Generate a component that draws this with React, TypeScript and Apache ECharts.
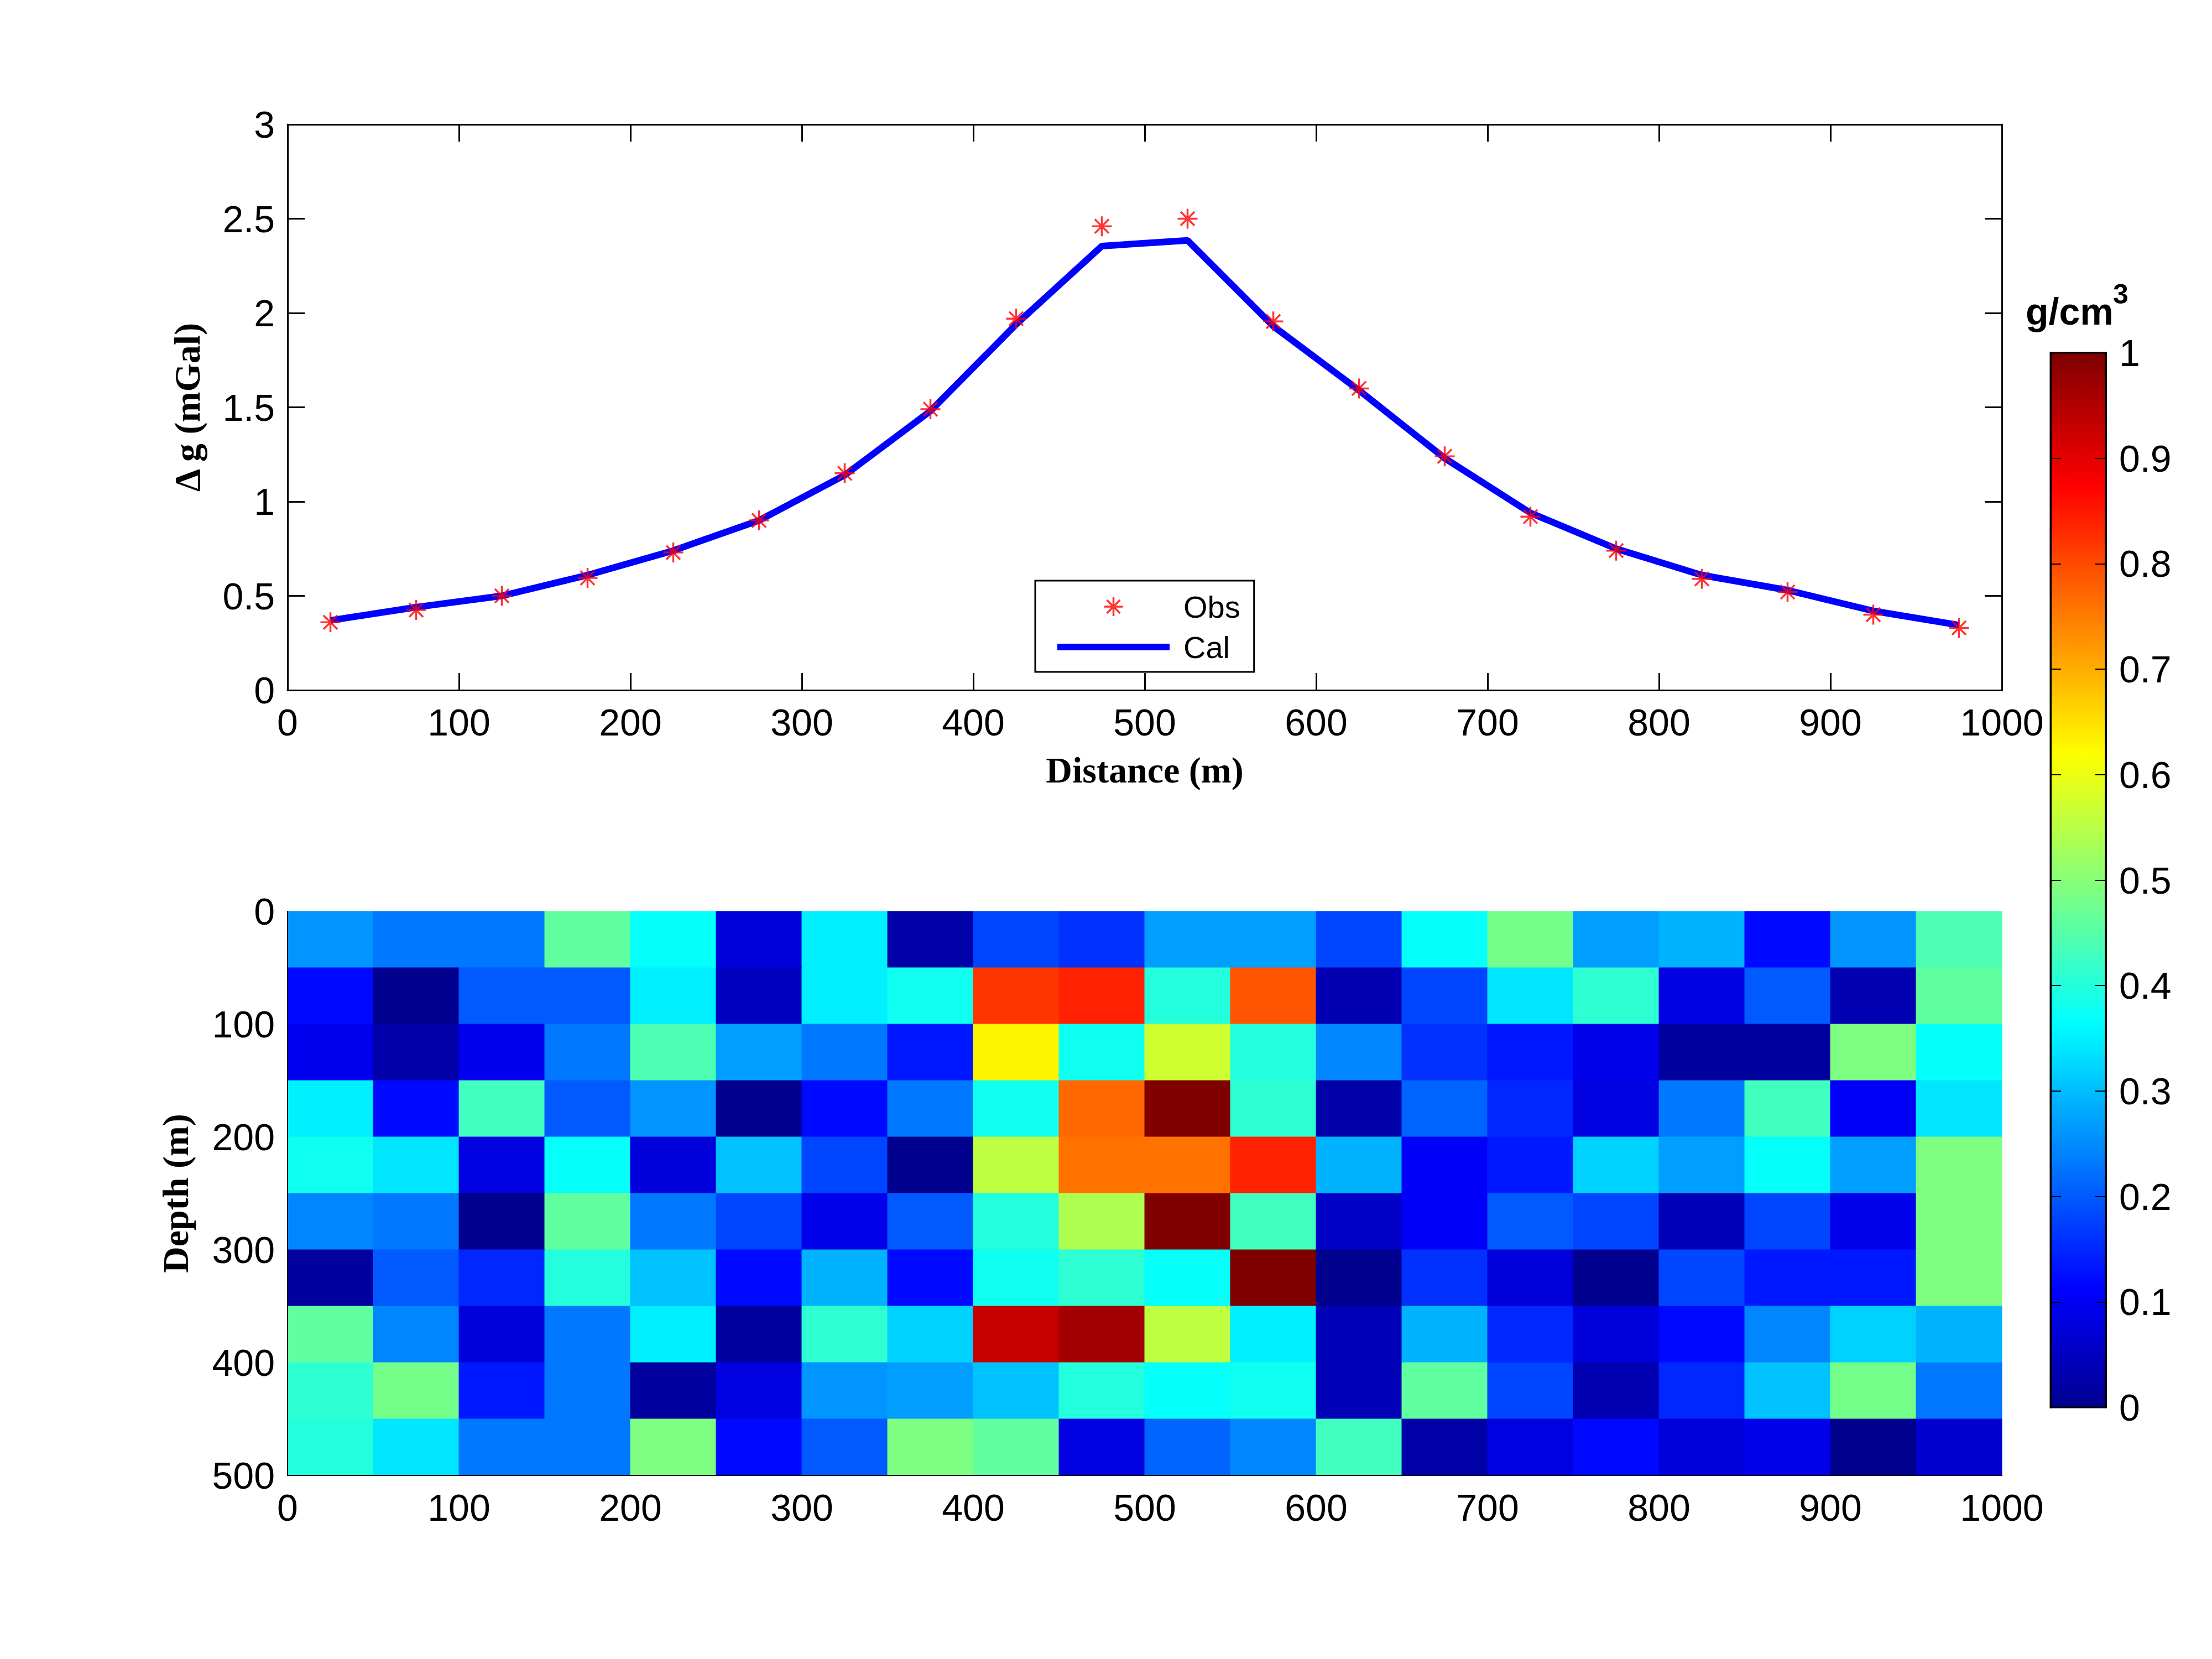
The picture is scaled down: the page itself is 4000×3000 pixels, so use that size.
import React, { useEffect, useRef } from 'react';
import * as echarts from 'echarts';

// ---------- data ----------
const distance = [25, 75, 125, 175, 225, 275, 325, 375, 425, 475, 525, 575, 625, 675, 725, 775, 825, 875, 925, 975];
const obsGravity = [0.36, 0.425, 0.5, 0.595, 0.73, 0.9, 1.15, 1.49, 1.97, 2.46, 2.5, 1.955, 1.6, 1.24, 0.92, 0.74, 0.59, 0.52, 0.4, 0.33];
const calGravity = [0.37, 0.44, 0.5, 0.61, 0.74, 0.9, 1.14, 1.48, 1.94, 2.355, 2.385, 1.93, 1.59, 1.23, 0.94, 0.75, 0.61, 0.53, 0.42, 0.345];
const depthCenters = [25, 75, 125, 175, 225, 275, 325, 375, 425, 475];
const density = [
  [0.26, 0.23, 0.23, 0.46, 0.37, 0.075, 0.35, 0.025, 0.18, 0.16, 0.27, 0.27, 0.18, 0.37, 0.48, 0.27, 0.29, 0.12, 0.26, 0.44],
  [0.12, 0.0, 0.2, 0.2, 0.35, 0.05, 0.35, 0.38, 0.82, 0.84, 0.4, 0.79, 0.035, 0.18, 0.34, 0.41, 0.08, 0.2, 0.035, 0.46],
  [0.095, 0.025, 0.095, 0.23, 0.44, 0.27, 0.23, 0.135, 0.63, 0.38, 0.57, 0.4, 0.245, 0.16, 0.135, 0.09, 0.015, 0.015, 0.49, 0.37],
  [0.35, 0.12, 0.43, 0.2, 0.26, 0.0, 0.12, 0.23, 0.38, 0.77, 1.0, 0.41, 0.025, 0.21, 0.15, 0.08, 0.23, 0.43, 0.105, 0.34],
  [0.38, 0.34, 0.08, 0.37, 0.075, 0.305, 0.18, 0.0, 0.555, 0.76, 0.76, 0.84, 0.29, 0.105, 0.135, 0.32, 0.27, 0.37, 0.27, 0.49],
  [0.245, 0.23, 0.0, 0.46, 0.23, 0.18, 0.09, 0.2, 0.4, 0.54, 1.0, 0.43, 0.055, 0.105, 0.2, 0.18, 0.04, 0.18, 0.09, 0.49],
  [0.015, 0.2, 0.15, 0.4, 0.305, 0.12, 0.29, 0.12, 0.38, 0.41, 0.37, 1.0, 0.0, 0.16, 0.075, 0.0, 0.18, 0.135, 0.135, 0.49],
  [0.46, 0.245, 0.075, 0.23, 0.35, 0.015, 0.41, 0.32, 0.93, 0.965, 0.555, 0.35, 0.04, 0.29, 0.15, 0.075, 0.12, 0.245, 0.32, 0.29],
  [0.41, 0.48, 0.135, 0.23, 0.015, 0.08, 0.26, 0.27, 0.305, 0.4, 0.37, 0.38, 0.04, 0.46, 0.18, 0.035, 0.15, 0.305, 0.48, 0.23],
  [0.4, 0.34, 0.23, 0.23, 0.49, 0.12, 0.2, 0.49, 0.46, 0.08, 0.21, 0.245, 0.43, 0.025, 0.08, 0.12, 0.075, 0.09, 0.0, 0.065],
];
const cellSize = 50;

const STAR = 'path://M0,-10L0,10M-10,0L10,0M-7,-7L7,7M-7,7L7,-7';
const LINE_ICON = 'path://M0,0H203V12H0Z';

// MATLAB jet(64) colormap
function jetColors(n: number): string[] {
  const out: string[] = [];
  const c = (v: number) => Math.round(255 * Math.max(0, Math.min(1, v)));
  for (let k = 0; k < n; k++) {
    const x = (k + 1) / n;
    out.push(`rgb(${c(1.5 - Math.abs(4 * x - 3))},${c(1.5 - Math.abs(4 * x - 2))},${c(1.5 - Math.abs(4 * x - 1))})`);
  }
  return out;
}

const SANS = 'Liberation Sans';
const SERIF = 'Liberation Serif';

export default function App() {
  const ref = useRef<HTMLDivElement>(null);
  useEffect(() => {
    document.body.style.margin = '0';
    const chart = echarts.init(ref.current as HTMLDivElement, null, { renderer: 'svg' });

    const axisLine = (w: number) => ({ show: true, onZero: false, lineStyle: { color: '#000', width: w } });
    const tickIn = (len: number, w: number) => ({ show: true, inside: true, length: len, lineStyle: { color: '#000', width: w } });
    const label = (margin: number) => ({
      show: true, color: '#000', fontSize: 68, fontFamily: SANS, margin,
      formatter: (v: number) => String(Math.round(v * 1000) / 1000),
    });
    const nameStyle = { color: '#000', fontSize: 66, fontFamily: SERIF, fontWeight: 'bold' as const };
    const noSplit = { show: false };

    const cells: number[][] = [];
    density.forEach((row, i) => row.forEach((v, j) => cells.push([distance[j], depthCenters[i], v])));

    const option: any = {
      animation: false,
      backgroundColor: '#fff',
      textStyle: { fontFamily: SANS },
      grid: [
        { left: 520, top: 225, width: 3100, height: 1023 },
        { left: 520, top: 1648, width: 3100, height: 1020 },
        { left: 3708, top: 638, width: 100, height: 1907, show: true, borderColor: '#000', borderWidth: 3, backgroundColor: 'transparent', z: 10 },
      ],
      xAxis: [
        {
          gridIndex: 0, type: 'value', min: 0, max: 1000, interval: 100, position: 'bottom',
          axisLine: axisLine(3), axisTick: tickIn(31, 3), axisLabel: label(24), splitLine: noSplit,
          name: 'Distance (m)', nameLocation: 'middle', nameGap: 111, nameTextStyle: nameStyle,
        },
        {
          gridIndex: 0, type: 'value', min: 0, max: 1000, interval: 100, position: 'top',
          axisLine: axisLine(3), axisTick: tickIn(31, 3), axisLabel: { show: false }, splitLine: noSplit,
        },
        {
          gridIndex: 1, type: 'value', min: 0, max: 1000, interval: 100, position: 'bottom', z: 5,
          axisLine: axisLine(2), axisTick: { show: false }, axisLabel: label(24), splitLine: noSplit,
        },
        { gridIndex: 2, type: 'value', min: 0, max: 1, show: false, splitLine: noSplit },
      ],
      yAxis: [
        {
          gridIndex: 0, type: 'value', min: 0, max: 3, interval: 0.5, position: 'left',
          axisLine: axisLine(3), axisTick: tickIn(31, 3), axisLabel: label(23), splitLine: noSplit,
          name: 'Δ g (mGal)', nameLocation: 'middle', nameRotate: 90, nameGap: 149, nameTextStyle: nameStyle,
        },
        {
          gridIndex: 0, type: 'value', min: 0, max: 3, interval: 0.5, position: 'right',
          axisLine: axisLine(3), axisTick: tickIn(31, 3), axisLabel: { show: false }, splitLine: noSplit,
        },
        {
          gridIndex: 1, type: 'value', min: 0, max: 500, interval: 100, inverse: true, position: 'left', z: 5,
          axisLine: axisLine(2), axisTick: { show: false }, axisLabel: label(23), splitLine: noSplit,
          name: 'Depth (m)', nameLocation: 'middle', nameRotate: 90, nameGap: 170, nameTextStyle: nameStyle,
        },
        {
          gridIndex: 2, type: 'value', min: 0, max: 1, interval: 0.1, position: 'right', z: 10,
          axisLine: axisLine(3), axisTick: tickIn(19, 2), axisLabel: label(24), splitLine: noSplit,
        },
        {
          gridIndex: 2, type: 'value', min: 0, max: 1, interval: 0.1, position: 'left', z: 10,
          axisLine: axisLine(3), axisTick: tickIn(19, 2), axisLabel: { show: false }, splitLine: noSplit,
        },
      ],
      visualMap: {
        type: 'continuous', min: 0, max: 1, dimension: 2, seriesIndex: 2,
        orient: 'vertical', left: 3708, top: 638, itemWidth: 100, itemHeight: 1907,
        padding: 0, calculable: false, hoverLink: false,
        inRange: { color: jetColors(64) },
      },
      legend: {
        left: 1872, top: 1050, orient: 'vertical', align: 'left',
        padding: [17, 25, 15, 40], itemWidth: 203, itemHeight: 34, itemGap: 13,
        borderColor: '#000', borderWidth: 3, backgroundColor: '#fff', selectedMode: false,
        symbolKeepAspect: true,
        textStyle: { fontFamily: SANS, fontSize: 56, color: '#000', lineHeight: 60, padding: [0, 0, 0, 20] },
        data: [
          { name: 'Obs', itemStyle: { color: 'rgba(0,0,0,0)', borderColor: '#FF0000', borderWidth: 3.5 } },
          { name: 'Cal', icon: LINE_ICON, itemStyle: { color: '#0000FF', borderWidth: 0 } },
        ],
      },
      graphic: [
        { type: 'text', x: 3663, y: 563, style: { text: 'g/cm', fill: '#000', fontSize: 68, fontWeight: 'bold', fontFamily: SANS, align: 'left', verticalAlign: 'middle' } },
        { type: 'text', x: 3821, y: 532, style: { text: '3', fill: '#000', fontSize: 50, fontWeight: 'bold', fontFamily: SANS, align: 'left', verticalAlign: 'middle' } },
      ],
      series: [
        {
          name: 'Cal', type: 'line', xAxisIndex: 0, yAxisIndex: 0, z: 2,
          data: distance.map((d, i) => [d, calGravity[i]]),
          symbol: 'none', lineStyle: { color: '#0000FF', width: 12 }, itemStyle: { color: '#0000FF' }, silent: true,
        },
        {
          name: 'Obs', type: 'scatter', xAxisIndex: 0, yAxisIndex: 0, z: 3,
          data: distance.map((d, i) => [d, obsGravity[i]]),
          symbol: STAR, symbolSize: 36, symbolKeepAspect: true,
          itemStyle: { color: '#FF0000', borderColor: '#FF0000', borderWidth: 3.5 }, silent: true,
        },
        {
          name: 'density', type: 'custom', xAxisIndex: 2, yAxisIndex: 2, silent: true,
          data: cells, encode: { x: 0, y: 1 },
          renderItem: (params: any, api: any) => {
            const x = api.value(0);
            const y = api.value(1);
            const a = api.coord([x - cellSize / 2, y - cellSize / 2]);
            const b = api.coord([x + cellSize / 2, y + cellSize / 2]);
            const color = api.visual('color');
            return {
              type: 'rect',
              shape: {
                x: Math.min(a[0], b[0]), y: Math.min(a[1], b[1]),
                width: Math.abs(b[0] - a[0]), height: Math.abs(b[1] - a[1]),
              },
              style: { fill: color, stroke: color, lineWidth: 1 },
            };
          },
        },
      ],
    };

    chart.setOption(option);
    return () => chart.dispose();
  }, []);
  return <div ref={ref} style={{ width: 4000, height: 3000 }} />;
}
